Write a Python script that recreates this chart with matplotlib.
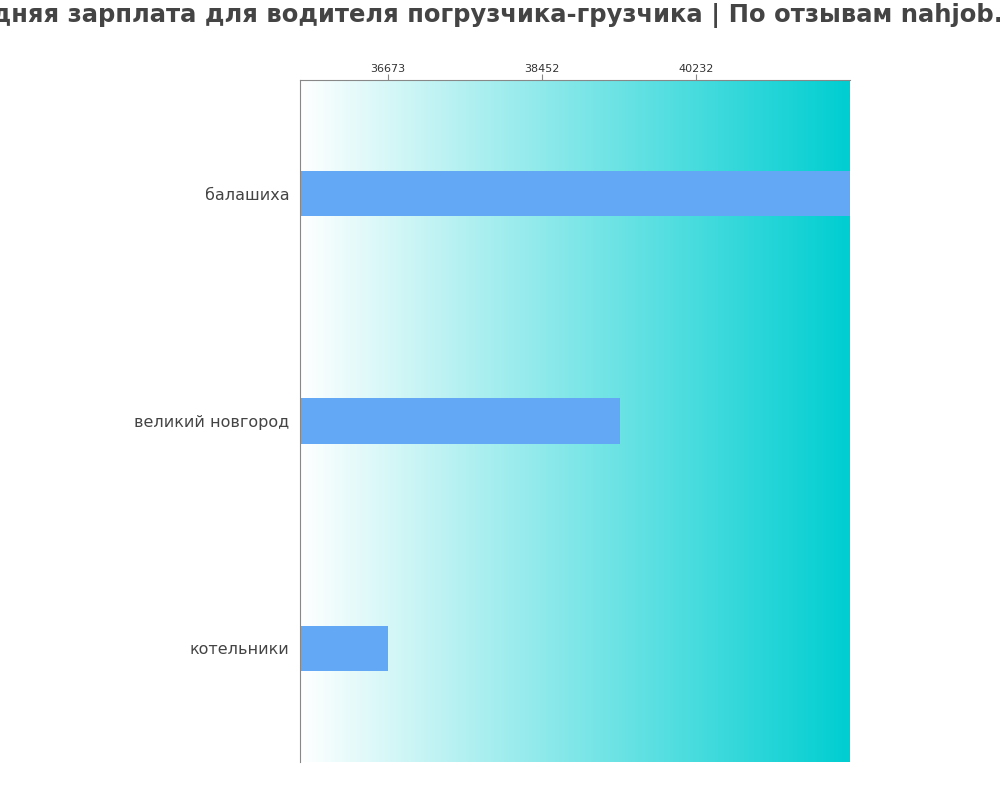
import matplotlib.pyplot as plt
import numpy as np
from matplotlib.colors import LinearSegmentedColormap

cities = ["балашиха", "великий новгород", "котельники"]
salaries = [42012, 39356, 36673]
tick_values = [36673, 38452, 40232]

x_min = 35653
x_max = 42012

fig = plt.figure(figsize=(10, 8), dpi=100)
ax = fig.add_axes([0.3, 0.0475, 0.55, 0.8525])

# gradient background
cmap = LinearSegmentedColormap.from_list("bg", ["#ffffff", "#00CED1"])
grad = np.linspace(0, 1, 256).reshape(1, -1)
ax.imshow(grad, cmap=cmap, aspect="auto", extent=[x_min, x_max, 2.5, -0.5], zorder=0)

y = np.arange(len(cities))
ax.barh(y, np.array(salaries) - x_min, left=x_min, height=0.2, color="#63A8F5", zorder=2)

ax.set_xlim(x_min, x_max)
ax.set_ylim(2.5, -0.5)
ax.set_yticks(y)
ax.set_yticklabels(cities, fontsize=11.5, color="#444444")
ax.tick_params(axis="y", length=0, pad=7.5)

ax.xaxis.tick_top()
ax.set_xticks(tick_values)
ax.set_xticklabels([str(v) for v in tick_values], fontsize=8, color="#333333")
ax.tick_params(axis="x", length=4, pad=0.5, color="#888888")

ax.spines["right"].set_visible(False)
ax.spines["bottom"].set_visible(False)
ax.spines["left"].set_color("#888888")
ax.spines["top"].set_color("#888888")

fig.text(0.5, 0.981, "Средняя зарплата для водителя погрузчика-грузчика | По отзывам nahjob.com",
         ha="center", va="center", fontsize=17.5, fontweight="bold", color="#444444")

fig.savefig("out.png", dpi=100)
